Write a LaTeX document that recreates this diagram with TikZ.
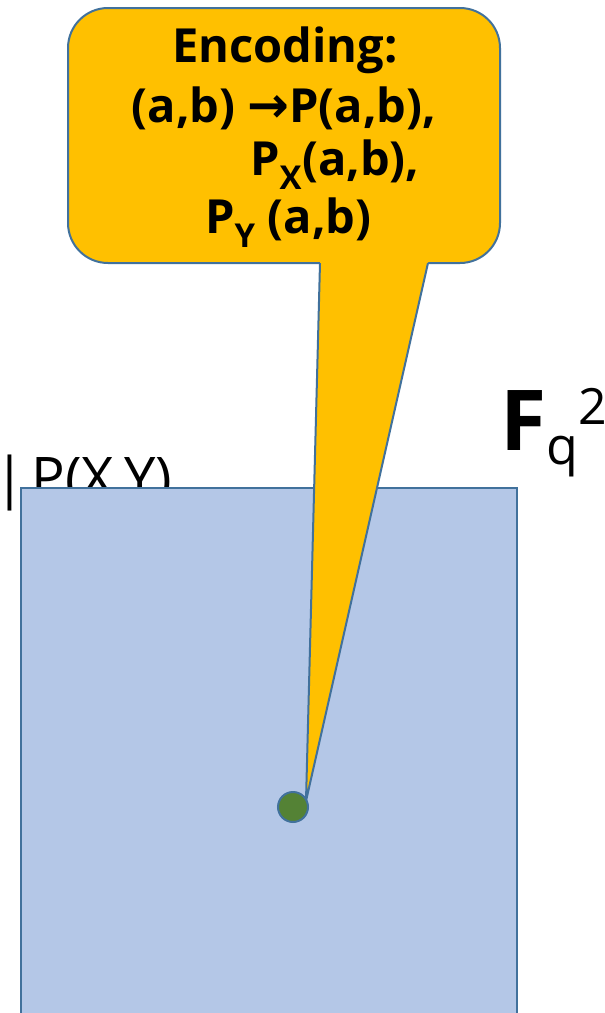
\documentclass[tikz,border=0pt]{standalone}
\usepackage{fontspec}
\usetikzlibrary{calc}
\setmainfont{Open Sans}
\newfontfamily\arrowfont{DejaVu Sans}
\definecolor{calloutfill}{HTML}{FFC000}
\definecolor{edgeblue}{HTML}{41719C}
\definecolor{squarefill}{HTML}{B4C7E7}
\definecolor{dotgreen}{HTML}{548235}
\begin{document}
\begin{tikzpicture}[x=1pt,y=-1pt,
  boxtext/.style={inner sep=0pt,font=\fontsize{47}{52}\selectfont\bfseries},
  plaintext/.style={inner sep=0pt}]
\useasboundingbox (0,0) rectangle (605,1013);
% label partly hidden behind the square
\node[plaintext,anchor=base west,font=\fontsize{56}{60}\selectfont] (plabel) at (-6,497) {|\kern-8pt{} P(X,Y)};
% field label
\node[plaintext,anchor=base west] (field) at (500,450)
  {\fontsize{84}{88}\selectfont\bfseries F\raisebox{-14pt}{\fontsize{52}{52}\selectfont\mdseries q}\raisebox{26pt}{\fontsize{50}{50}\selectfont\mdseries 2}};
% square
\draw[edgeblue,line width=2pt,fill=squarefill] (21,1020) -- (21,488) -- (517,488) -- (517,1020);
% callout box
\node[draw=edgeblue,line width=2pt,fill=calloutfill,rounded corners=40pt,
      minimum width=432pt,minimum height=255pt,inner sep=0pt] (callout) at (284,135.5) {};
\coordinate (tip) at (306,801);
\coordinate (bl) at (320,263);
\coordinate (br) at (428,263);
\fill[calloutfill] ($(bl)!-0.02!(tip)$) -- ($(br)!-0.02!(tip)$) -- (tip) -- cycle;
\draw[edgeblue,line width=2pt,line join=round] (bl) -- (tip) -- (br);
% text
\node[boxtext,anchor=base] (l1) at (285,62) {Encoding:};
\node[boxtext,anchor=base] (l2) at (284,122) {(a,b) {\arrowfont\bfseries\fontsize{50}{52}\selectfont →}P(a,b),};
\node[boxtext,anchor=base west] (l3) at (250,175) {P\textsubscript{X}(a,b),};
\node[boxtext,anchor=base west] (l4) at (205,233) {P\textsubscript{Y} (a,b)};
% point
\node[circle,draw=edgeblue,line width=2pt,fill=dotgreen,minimum size=30pt,inner sep=0pt] (pt) at (293,807) {};
\end{tikzpicture}
\end{document}
